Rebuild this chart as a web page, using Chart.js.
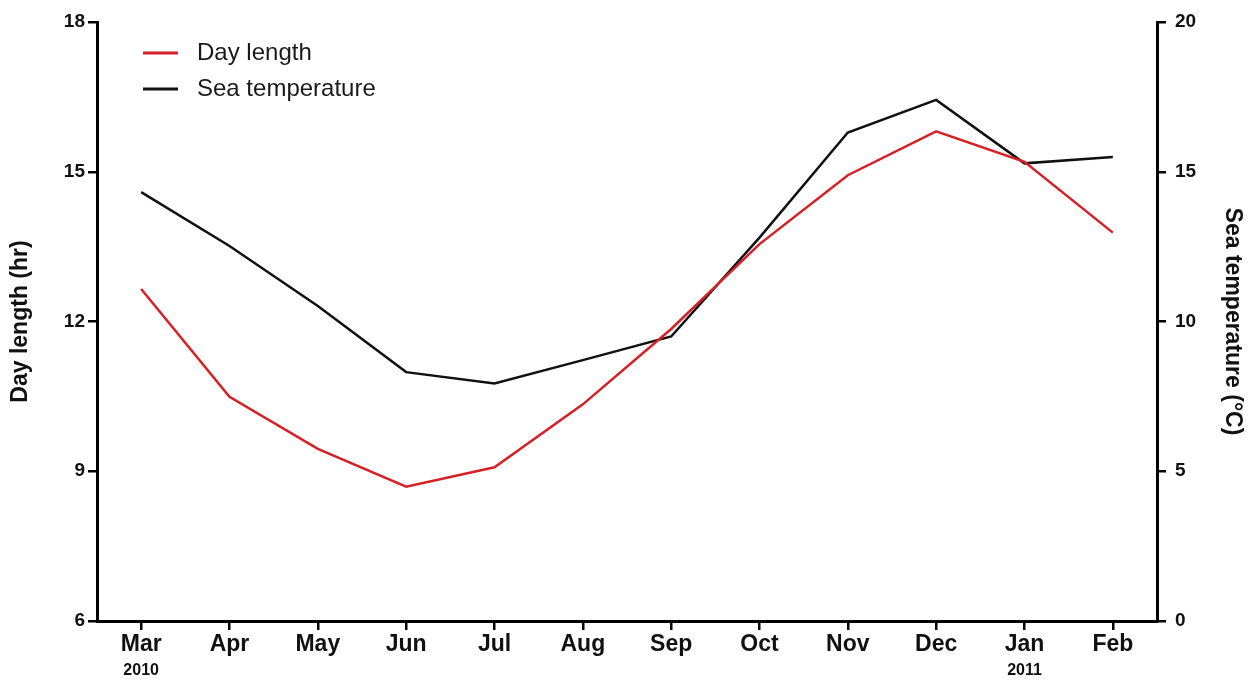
<!DOCTYPE html>
<html>
<head>
<meta charset="utf-8">
<script src="https://cdn.jsdelivr.net/npm/chart.js@4/dist/chart.umd.min.js"></script>
<style>
  body { margin: 0; background: #fff; }
  #wrap { width: 1250px; height: 682px; position: relative; }
</style>
</head>
<body>
<div id="wrap"><canvas id="chart"></canvas></div>
<script>
const months = ['Mar', 'Apr', 'May', 'Jun', 'Jul', 'Aug', 'Sep', 'Oct', 'Nov', 'Dec', 'Jan', 'Feb'];
const years = ['2010', '', '', '', '', '', '', '', '', '', '2011', ''];
const dayLength = [12.65, 10.49, 9.45, 8.69, 9.08, 10.34, 11.85, 13.55, 14.93, 15.81, 15.2, 13.78];
const seaTemp = [14.32, 12.52, 10.52, 8.31, 7.93, 8.71, 9.5, 12.8, 16.31, 17.4, 15.28, 15.49];
const dayTicks = [6, 9, 12, 15, 18];
const tempTicks = [0, 5, 10, 15, 20];

const FONT = "'Liberation Sans', Arial, sans-serif";

// year text under the month labels
const yearPlugin = {
    id: 'years',
    afterDraw(chart) {
        const ctx = chart.ctx;
        const x = chart.scales.x;
        ctx.save();
        ctx.font = 'bold 16px ' + FONT;
        ctx.fillStyle = '#111';
        ctx.textAlign = 'center';
        ctx.textBaseline = 'middle';
        years.forEach((y, i) => {
            if (y) ctx.fillText(y, x.getPixelForValue(i), 671);
        });
        ctx.restore();
    }
};

// legend drawn inside the plot, top left
const legendPlugin = {
    id: 'innerLegend',
    afterDraw(chart) {
        const ctx = chart.ctx;
        ctx.save();
        ctx.font = '24px ' + FONT;
        ctx.textBaseline = 'middle';
        chart.data.datasets.forEach((ds, i) => {
            const y = 53 + i * 36;
            ctx.strokeStyle = ds.borderColor;
            ctx.lineWidth = 3;
            ctx.beginPath();
            ctx.moveTo(143, y);
            ctx.lineTo(178, y);
            ctx.stroke();
            ctx.fillStyle = '#1a1a1a';
            ctx.fillText(ds.label, 197, y);
        });
        ctx.restore();
    }
};

const ctx = document.getElementById('chart').getContext('2d');
const chart = new Chart(ctx, {
    type: 'line',
    data: {
        labels: months,
        datasets: [{
            label: 'Day length',
            data: dayLength,
            yAxisID: 'y',
            borderColor: '#d71f26',
            borderWidth: 2.5,
            pointRadius: 0,
            tension: 0
        }, {
            label: 'Sea temperature',
            data: seaTemp,
            yAxisID: 'y2',
            borderColor: '#111111',
            borderWidth: 2.5,
            pointRadius: 0,
            tension: 0
        }]
    },
    options: {
        responsive: true,
        maintainAspectRatio: false,
        animation: false,
        layout: { padding: { top: 22, left: 0, right: 0, bottom: 0 } },
        plugins: {
            legend: { display: false },
            tooltip: { enabled: false }
        },
        scales: {
            x: {
                offset: true,
                grid: { display: true, drawOnChartArea: false, drawTicks: true, tickLength: 9, color: '#000', lineWidth: 2.5, offset: false },
                border: { display: true, color: '#000', width: 3 },
                ticks: { color: '#111', font: { family: FONT, size: 23, weight: 'bold' }, padding: 1, maxRotation: 0 },
                afterFit: s => { s.height = 61; }
            },
            y: {
                position: 'left',
                min: 6,
                max: 18,
                afterBuildTicks: s => { s.ticks = dayTicks.map(v => ({ value: v })); },
                grid: { display: true, drawOnChartArea: false, drawTicks: true, tickLength: 9, color: '#000', lineWidth: 2.5 },
                border: { display: true, color: '#000', width: 3 },
                ticks: { color: '#111', font: { family: FONT, size: 19, weight: 'bold' }, padding: 3 },
                title: { display: true, text: 'Day length (hr)', color: '#111', font: { family: FONT, size: 23, weight: 'bold' }, padding: { top: 7 } },
                afterFit: s => { s.width = 97; }
            },
            y2: {
                position: 'right',
                min: 0,
                max: 20,
                afterBuildTicks: s => { s.ticks = tempTicks.map(v => ({ value: v })); },
                grid: { display: true, drawOnChartArea: false, drawTicks: true, tickLength: 9, color: '#000', lineWidth: 2.5 },
                border: { display: true, color: '#000', width: 3 },
                ticks: { color: '#111', font: { family: FONT, size: 19, weight: 'bold' }, padding: 9 },
                title: { display: true, text: 'Sea temperature (°C)', color: '#111', font: { family: FONT, size: 23, weight: 'bold' }, padding: { top: 4 } },
                afterFit: s => { s.width = 93; }
            }
        }
    },
    plugins: [yearPlugin, legendPlugin]
});
</script>
</body>
</html>
